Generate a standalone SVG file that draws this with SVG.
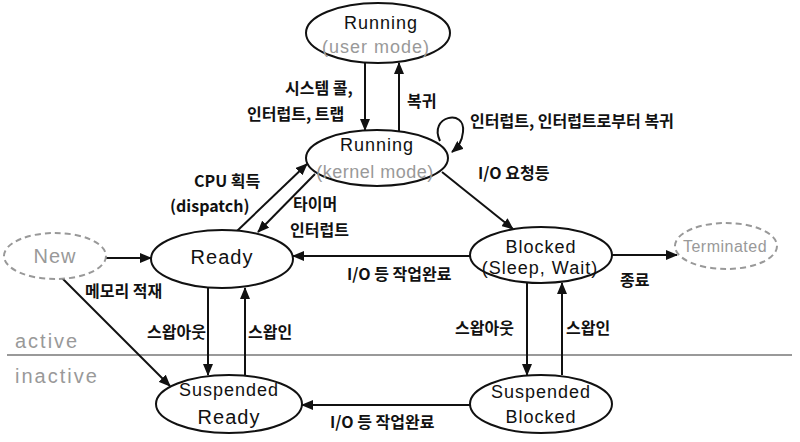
<svg xmlns="http://www.w3.org/2000/svg" width="800" height="442" viewBox="0 0 800 442">
<style>
.node{fill:#fff;stroke:#111;stroke-width:2}
.ghost{fill:#fff;stroke:#999;stroke-width:2;stroke-dasharray:6 4}
.t{font-family:"Liberation Sans","Noto Sans",sans-serif;font-size:18px;fill:#111;text-anchor:middle;letter-spacing:1px}
.big{font-size:20px}
.g{fill:#999}
.lbl{font-family:"Noto Sans CJK KR","Liberation Sans",sans-serif;font-size:16px;font-weight:bold;fill:#111}
.edge{fill:none;stroke:#111;stroke-width:2;marker-end:url(#ah)}
.zone{font-family:"Liberation Sans",sans-serif;font-size:20px;fill:#999;letter-spacing:2px}
</style>
<defs>
<marker id="ah" markerWidth="12" markerHeight="10" refX="11" refY="5" orient="auto" markerUnits="userSpaceOnUse">
<path d="M0,0 L12,5 L0,10 z" fill="#111"/>
</marker>
</defs>
<rect width="800" height="442" fill="#fff"/>
<g id="divider">
<line x1="7" y1="355" x2="792" y2="355" stroke="#999" stroke-width="2"/>
<text class="zone" x="15" y="348">active</text>
<text class="zone" x="15" y="383">inactive</text>
</g>
<g id="connectors">
<path class="edge" d="M365,63 L365,130"/>
<path class="edge" d="M399,131 L399,63"/>
<path class="edge" d="M440,141 C428,116 466,108 463,132 C462,142 458,147 452,152"/>
<path class="edge" d="M237,231 L307,164"/>
<path class="edge" d="M315,174 L258,232"/>
<path class="edge" d="M442,172 L513,229"/>
<path class="edge" d="M106,258 L151,258"/>
<path class="edge" d="M62,278 L170,386"/>
<path class="edge" d="M208,288 L208,375"/>
<path class="edge" d="M245,375 L245,288"/>
<path class="edge" d="M470,256 L293,256"/>
<path class="edge" d="M470,405 L302,405"/>
<path class="edge" d="M612,255 L677,255"/>
<path class="edge" d="M527,283 L527,375"/>
<path class="edge" d="M562,375 L562,283"/>
</g>
<g id="labels">
<text class="lbl" x="285" y="94">시스템 콜,</text>
<text class="lbl" x="247" y="120">인터럽트, 트랩</text>
<text class="lbl" x="407" y="107">복귀</text>
<text class="lbl" x="470" y="127">인터럽트, 인터럽트로부터 복귀</text>
<text class="lbl" x="478" y="179">I/O 요청등</text>
<text class="lbl" x="194" y="187">CPU 획득</text>
<text class="lbl" x="170" y="212">(dispatch)</text>
<text class="lbl" x="293" y="210">타이머</text>
<text class="lbl" x="290" y="236">인터럽트</text>
<text class="lbl" x="85" y="297">메모리 적재</text>
<text class="lbl" x="147" y="338">스왑아웃</text>
<text class="lbl" x="248" y="338">스왑인</text>
<text class="lbl" x="347" y="280">I/O 등 작업완료</text>
<text class="lbl" x="330" y="428">I/O 등 작업완료</text>
<text class="lbl" x="620" y="286">종료</text>
<text class="lbl" x="455" y="334">스왑아웃</text>
<text class="lbl" x="566" y="334">스왑인</text>
</g>
<g id="running-user">
<ellipse class="node" cx="378" cy="33" rx="72" ry="30"/>
<text class="t" x="381" y="29">Running</text>
<text class="t g" x="376" y="53">(user mode)</text>
</g>
<g id="running-kernel">
<ellipse class="node" cx="377" cy="158" rx="71" ry="28"/>
<text class="t" x="377" y="151">Running</text>
<text class="t g" x="375" y="178" style="letter-spacing:0.5px">(kernel mode)</text>
</g>
<g id="ready">
<ellipse class="node" cx="222" cy="259" rx="71" ry="29"/>
<text class="t big" x="222" y="264">Ready</text>
</g>
<g id="new">
<ellipse class="ghost" cx="55" cy="256" rx="51" ry="23"/>
<text class="t g big" x="55" y="263">New</text>
</g>
<g id="blocked">
<ellipse class="node" cx="541" cy="255" rx="71" ry="28"/>
<text class="t" x="541" y="253">Blocked</text>
<text class="t" x="540" y="274">(Sleep, Wait)</text>
</g>
<g id="terminated">
<ellipse class="ghost" cx="726" cy="246" rx="51" ry="23"/>
<text class="t g" x="725" y="252" style="font-size:16px;letter-spacing:0.5px">Terminated</text>
</g>
<g id="suspended-ready">
<ellipse class="node" cx="229" cy="404" rx="73" ry="29"/>
<text class="t" x="229" y="396">Suspended</text>
<text class="t big" x="229" y="424">Ready</text>
</g>
<g id="suspended-blocked">
<ellipse class="node" cx="541" cy="404" rx="71" ry="29"/>
<text class="t" x="541" y="398">Suspended</text>
<text class="t" x="541" y="423">Blocked</text>
</g>
</svg>
